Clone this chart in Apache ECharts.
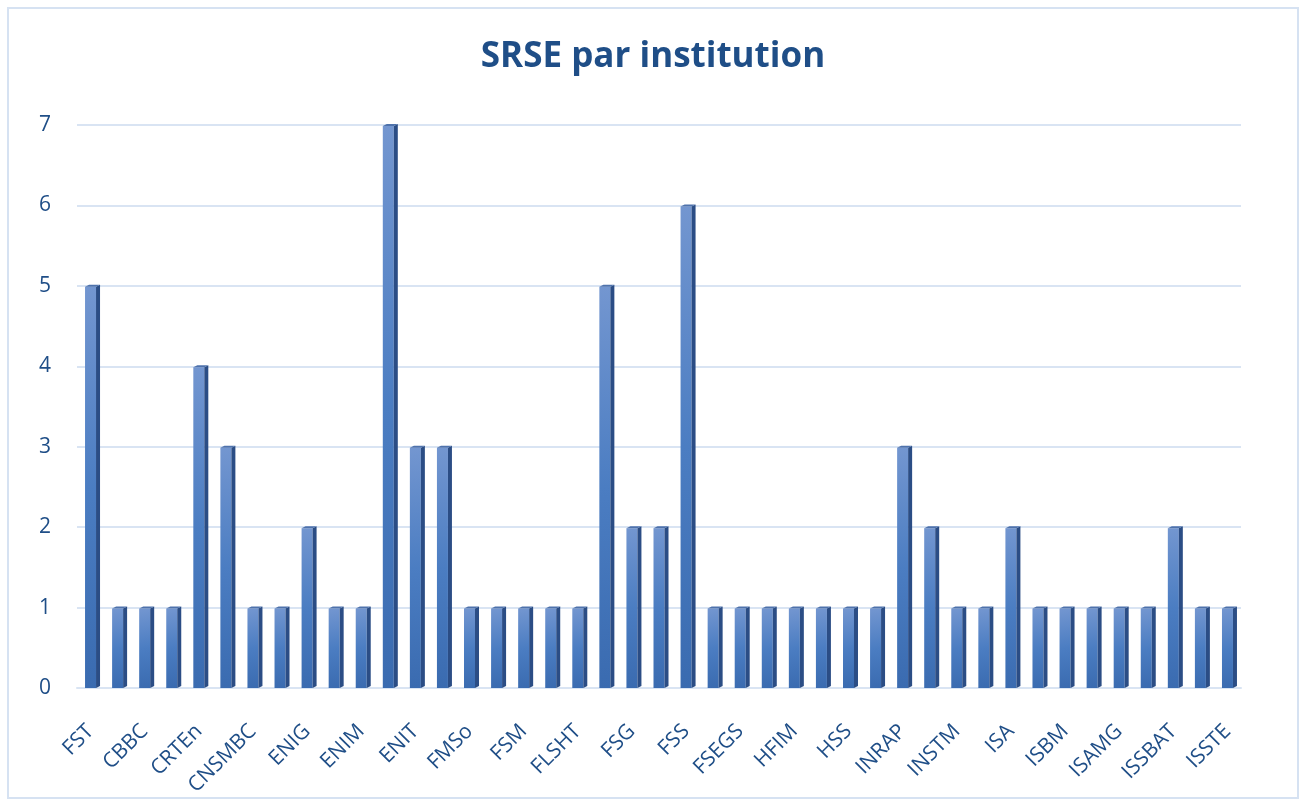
<!DOCTYPE html>
<html><head><meta charset="utf-8">
<script src="https://cdn.jsdelivr.net/npm/echarts@6/dist/echarts.min.js"></script>
<style>html,body{margin:0;padding:0;background:#fff}#c{width:1306px;height:805px}
#frame{position:absolute;left:7px;top:7px;width:1292px;height:792px;border:2px solid #D6E2F2;box-sizing:border-box;pointer-events:none}</style>
</head><body><div id="c"></div><div id="frame"></div>
<script>
const categories = ["FST","CBS","CBBC","CERTE","CRTEn","CNSTN","CNSMBC","ENIB","ENIG","ENIS","ENIM","ENISo","ENIT","FMM","FMSo","FPS","FSM","FSB","FLSHT","FSEGT","FSG","FSJPST","FSS","FSEGN","FSEGS","FSEGT2","HFIM","HCN","HSS","IPEIM","INRAP","INAT","INSTM","IRA","ISA","ISAM","ISBM","ISET","ISAMG","ISIMG","ISSBAT","ISSAT","ISSTE"];
const values = [5,1,1,1,4,3,1,1,2,1,1,7,3,3,1,1,1,1,1,5,2,2,6,1,1,1,1,1,1,1,3,2,1,1,2,1,1,1,1,1,2,1,1];
const yTicks = [0,1,2,3,4,5,6,7];

const chart = echarts.init(document.getElementById('c'));
const frontGrad = new echarts.graphic.LinearGradient(0,0,1,1,[
  {offset:0,color:'#7396D0'},{offset:0.5,color:'#4B7DC2'},{offset:1,color:'#3A6BB0'}]);
chart.setOption({
  animation:false,
  title:{text:'SRSE par institution',left:'center',top:35,
    textStyle:{fontFamily:'Open Sans',fontWeight:'bold',fontSize:35,color:'#1F4E87'}},
  grid:{left:77,right:65,top:125,bottom:117},
  xAxis:{type:'category',data:categories,
    axisLine:{show:true,lineStyle:{color:'#D9E4F3',width:2}},
    axisTick:{show:false},
    axisLabel:{interval:1,rotate:45,margin:40,fontFamily:'Open Sans',fontSize:21,color:'#1F4E87'}},
  yAxis:{type:'value',min:0,max:7,interval:1,
    axisLine:{show:false},axisTick:{show:false},
    axisLabel:{margin:26,fontFamily:'Open Sans',fontSize:21,color:'#1F4E87',
      formatter:v=>yTicks.includes(v)?String(v):''},
    splitLine:{lineStyle:{color:'#D9E4F3',width:2}}},
  series:[{type:'custom',
    data:values.map((v,i)=>[i,v]),
    encode:{x:0,y:1},
    renderItem:function(params,api){
      const top=api.coord([api.value(0),api.value(1)]);
      const base=api.coord([api.value(0),0]);
      const cx=top[0], w=11, d=4;
      const x0=cx-w/2, x1=cx+w/2;
      return {type:'group',children:[
        {type:'rect',shape:{x:x0,y:top[1]+1,width:w,height:base[1]-top[1]-1},style:{fill:frontGrad}},
        {type:'polygon',shape:{points:[[x1,top[1]+1],[x1+d,top[1]-1],[x1+d,base[1]-2],[x1,base[1]]]},style:{fill:'#2B4D85'}},
        {type:'polygon',shape:{points:[[x0,top[1]+1],[x0+d,top[1]-1],[x1+d,top[1]-1],[x1,top[1]+1]]},style:{fill:'#4E72AC'}}
      ]};
    }}]
});
</script></body></html>
